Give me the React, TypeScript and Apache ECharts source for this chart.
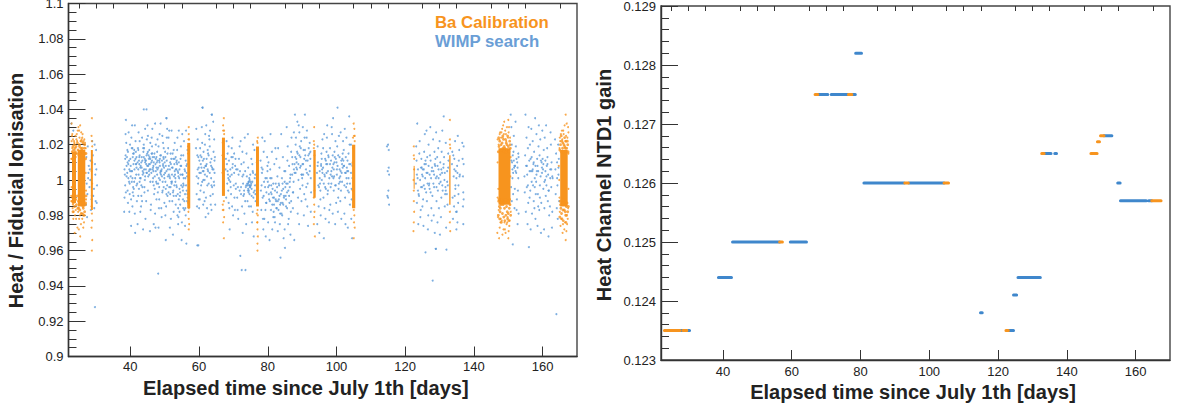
import React, { useEffect, useRef } from "react";
import * as echarts from "echarts";

type Pt = [number, number];
const FONT = "'Liberation Sans', Arial, sans-serif";
const BLUE = "#5b9ad8";
const ORANGE = "#f7941e";
const GAIN_BLUE = "#3f87cc";

const xMajor = [40, 60, 80, 100, 120, 140, 160];
const xMinor = [25, 30, 35, 45, 50, 55, 65, 70, 75, 85, 90, 95, 105, 110, 115, 125, 130, 135, 145, 150, 155, 165];

// Scatter rows: [day, tenths of a day, thousandths from 1, ...]
const wimpRows: number[][] = [
[27,2,13,5,-8,8,4,1,-14,6,19,3,-2,9,8,4,-21,7,1],
[28,1,-4,4,11,7,-11,2,6,9,22,5,-17,3,0],
[29,4,-5,7,9,1,14,5,-16,8,3,2,-9,6,20,9,-12],
[30,1,6,3,-3,0,17,2,-13],
[38,2,-18,3,-10,4,3,5,12,6,26,7,34,8,21,5,-3,9,8,7,-7],
[39,3,16,7,-18,1,4,5,27,8,-8,2,10,9,20,4,1,6,-1,0,13,7,6,3,-13],
[40,5,31,2,-26,8,-4,4,18,1,2,9,9,6,-15,3,24,7,-7,0,12,5,5,8,15,2,-11,6,1],
[41,3,31,8,7,1,-1,6,16,4,-30,9,-12,2,11,7,3,5,22,0,-5,8,13,3,-19,6,9,1,17],
[42,5,-5,1,-25,7,14,3,6,9,-18,4,27,0,-2,6,9,2,18,8,1,5,11,3,-9,7,22],
[43,2,-9,6,3,9,13,1,-15,4,24,7,-28,3,7,8,16,0,1,5,-4,2,10,9,20,6,5,4,-12],
[44,7,40,1,-4,5,11,8,4,3,29,6,-12,0,18,9,8,4,-22,2,0,7,14,5,6,1,-7,8,23,3,10],
[45,3,14,8,21,1,-6,6,6,4,12,9,-17,0,31,5,17,2,2,7,-29,4,9,8,-1,1,25,6,13],
[46,8,-3,2,24,5,13,0,-14,7,5,3,19,9,-8,4,29,1,10,6,1,8,-25,3,15,5,-1,7,8],
[47,2,-19,6,7,9,23,1,-5,4,12,8,3,3,-27,5,-1,0,15,7,10,2,32,9,6,6,-11,4,20],
[48,2,19,8,32,4,-11,6,8,1,-2,9,14,5,26,3,-16,7,4,0,-7,4,11,8,5,2,-27,6,0],
[49,3,-7,7,18,1,6,5,21,9,-13,4,-1,2,11,8,3,6,13,0,-16,3,25,7,-4,5,8,1,-21],
[50,2,-20,7,29,3,8,8,-9,5,35,1,16,9,2,4,-15,6,24,0,10,3,-34,7,-3,5,5,2,13],
[51,1,24,6,10,3,-4,8,-22,5,6,0,18,9,-1,4,-12,7,15,2,3,6,-8,3,28,8,9,5,-27],
[52,4,-7,9,21,1,7,6,-18,3,15,8,-3,5,12,0,28,7,2,2,-12,4,-31,9,5,6,17,1,-1],
[53,2,-14,7,24,4,10,9,-25,1,-1,6,17,3,-9,8,5,5,-4,0,3,7,-20,2,13,4,6,9,-16],
[54,1,28,6,12,3,-5,8,8,5,-14,0,-21,7,19,2,1,4,-9,9,-34,6,3,1,10,3,-18,8,14],
[55,4,14,9,-26,2,3,7,-17,5,-3,0,-24,3,-11,8,6,1,26,6,22,4,-16,9,-8,2,-4],
[56,1,11,5,2,3,-36,7,-10,2,28,6,17,0,-16,4,-6,1,-20,5,-12,3,8],
[59,2,29,5,14,8,1,3,-8,6,23,9,7,4,-15,1,18,7,-2,5,-37,9,-11],
[60,3,18,6,-3,1,11,8,30,5,4,2,-11,9,21,4,-6,7,13,0,-16,5,9],
[61,0,41,5,7,2,-14,8,26,3,16,6,0,9,-21,1,11,4,-7,7,20,3,5,6,-12],
[62,1,31,6,5,3,-16,8,14,4,-3,9,25,2,9,7,-19,5,17,0,-10,3,2],
[63,2,28,6,12,4,-14,8,-4,1,19,5,8,7,37,9,6,3,-9,0,23,6,-17],
[64,1,33,5,11,3,-1,7,-14,2,16,4,23,0,-8,5,4],
[67,7,6,9,-10,8,12],
[68,2,-2,6,19,4,3,8,-16,1,9,5,-6,3,15,9,-28,7,0,0,22,6,-13],
[69,2,-4,7,7,4,13,9,-20,1,-1,5,18,3,-8,8,9,6,-15,0,2,7,24],
[70,1,-3,6,12,3,-10,8,6,4,-17,2,15,7,-5],
[71,2,-17,6,12,3,-4,8,19,4,-22,9,5,1,-10],
[72,3,9,7,-30,1,22,5,-15,8,-2,6,16,9,3,2,-8],
[73,1,-8,9,2,3,24,7,-25,2,-19,6,-4,8,15,0,10,4,-12],
[74,0,-2,5,-6,3,7,8,-4,1,-12,6,-3,2,26,7,-8,4,-1,9,3,5,-15,3,-5,7,0,1,-3],
[75,2,12,6,5,0,-1,4,-24,8,-10,3,-5,7,20,1,-15,5,9,9,-32,2,-2,6,-18],
[76,1,17,4,-8,2,1,5,-12,3,-3],
[77,9,11],
[78,0,-6,4,24,1,-17,7,-28,3,4,8,16,5,-10,2,7,6,-22,9,-1],
[79,1,22,5,-13,2,-4,8,13,4,-32,9,5,3,-17,6,-7,0,-22,7,1],
[80,2,10,6,-12,1,-24,8,26,4,-3,9,-17,3,-8,5,-34,7,6,0,-1],
[81,2,16,6,-21,1,1,8,-14,3,-28,9,9,5,-10,7,-18,4,-5,0,-3],
[82,5,12,1,-24,7,-7,3,-2,9,-29,4,-12,6,-16,2,18,8,2,0,-21],
[83,2,-11,4,7,9,26,1,-17,5,-25,8,-8,3,-3,6,-14,0,18],
[84,1,1,6,-33,3,-13,8,5,4,13,9,-28,2,-20,5,-5,7,-9,0,-19],
[85,5,30,2,-9,7,11,3,-15,8,19,4,-2,9,-25,1,5,6,-7],
[86,2,8,6,-31,4,-4,8,16,3,-13,9,24,1,-22,5,1,7,-18,0,-6],
[87,2,9,6,27,4,-7,1,13,7,-34,3,-16,8,4,5,-1],
[88,1,20,6,33,3,7,8,-10,2,24,5,16,9,0,4,10,7,-19,0,13],
[89,2,27,7,22,4,-5,9,3,1,-25,5,13,8,-12,3,19,6,8,0,31],
[90,2,30,5,-20,3,9,9,14,1,-3,7,24,4,17,0,1,6,-8],
[91,3,24,7,-26,1,6,5,-15,9,18,2,-4,6,11,4,28,8,3,0,-11],
[92,1,15,5,-18,3,8,6,-7,2,21,4,12],
[94,3,4,8,-15,5,19,9,-4,6,10,4,-25],
[95,1,1,6,15,3,-11,8,6,4,-20,9,23,2,-2,7,12,0,-30,5,8],
[96,4,26,8,-22,2,-10,6,2,1,18,9,11,3,-33,7,-4,5,-16],
[97,1,16,5,5,9,-17,3,31,7,-2,2,24,6,14,4,-8,8,-24,0,9],
[98,6,30,2,-14,8,7,4,11,1,18,5,-2,9,-19,3,3,7,26],
[99,5,13,2,-6,7,22,3,2,9,-13,4,16,6,-25,1,9,8,-3],
[100,7,25,1,6,5,-10,9,13,4,-18,2,19,8,1,6,-5,0,10],
[101,2,27,6,9,4,-22,8,15,1,-12,5,4,9,22,3,-6,7,12,0,-1],
[102,4,29,8,-4,2,8,6,-25,1,17,5,-10,9,24,3,-19,7,4,0,11],
[103,1,-2,5,15,2,11,9,-14,4,5,8,20,3,-27,6,-7,0,7],
[104,1,9,5,-33,2,20,3,-22,6,1,4,-11],
[114,7,19,9,5,8,-9],
[115,0,20,2,7,1,-6,3,3,3,-14,0,-10,2,17],
[123,2,19,7,6,1,-2,8,-25,4,-13,9,-8,3,11,6,1],
[124,1,15,5,-17,8,7,2,22,6,-4,9,3,4,-21,7,12,0,-9],
[125,2,-11,7,26,4,-3,1,6,5,16,3,-26,8,1,0,-15,6,9],
[126,2,28,7,-20,4,13,9,-3,1,-7,5,4,3,-12,8,20,0,9,6,-28],
[127,3,30,7,-23,1,-5,5,1,9,-9,2,14,6,-16,4,11,8,7,0,-2],
[128,4,-4,7,8,2,5,5,16,9,-39,3,-20,6,-30,1,23,8,12],
[129,2,2,6,18,0,27,4,-24,8,-16,3,13,7,6,1,-12,5,-6,9,-2],
[130,1,-31,6,16,3,-1,8,28,4,-21,9,-6,2,10,7,4,0,22,5,-10],
[131,6,-8,3,13,8,21,4,0,9,-27,1,7,5,-15,7,-4],
[132,4,-3,2,5,6,11,3,-14,1,-8,5,15],
[133,6,9,8,-10,7,16,9,-22],
[134,2,-15,6,-3,1,2,5,22,9,-28,3,12,7,5,4,-9,8,-18,0,14],
[135,2,-24,7,17,4,-13,9,3,1,8,5,-3,3,25,6,11,0,-18],
[136,6,21,8,2,9,-7,7,12,8,-15,9,-25],
[137,0,19,0,-11,0,9],
[150,7,37,9,30,8,-4,9,11],
[151,0,20,5,16,7,7,1,10,4,-8,8,-16,2,1,6,25,9,-5,0,-12,3,14],
[152,1,33,5,-11,3,4,7,-25,2,19,6,10,9,1,4,-17,8,-6,0,8],
[153,0,-19,0,13],
[154,7,2,9,14,8,-7],
[155,3,24,6,-25,1,-18,8,-13,4,-4,7,18,2,8,9,30,5,3],
[156,3,20,6,5,9,-19,1,11,5,-28,8,13,4,-6,7,29,2,-10],
[157,1,22,6,-16,3,9,5,16,9,-22,2,-3,7,1,4,-12,0,5],
[158,2,26,6,-8,4,12,9,31,1,-1,5,-26,3,5,8,19,7,-15,0,-8],
[159,1,14,5,-30,3,23,8,4,6,-13,2,-10,9,28,4,2,7,10,0,-17],
[160,2,-5,6,24,4,-28,8,11,1,6,5,-16,3,17,9,-9,7,0,0,12],
[161,0,31,5,-12,2,8,7,-32,3,18,8,-6,1,-3,6,3,4,13,9,-20],
[162,1,-15,5,-4,3,27,8,-18,6,10,2,6,4,20,9,1,7,-27],
[163,6,23,8,-8,7,6,9,15],
[164,1,-16,3,-3,5,20,2,10,7,12,6,3,4,-22,8,-12],
];
// Second reading of the denser middle of the blue band
const wimpCoreRows: number[][] = [
[38,9,2,6,14,3,6],[39,4,9,8,-2,1,17,6,11,2,-6,9,5],[40,1,8,4,-1,7,13,3,5,9,-9,6,18],[41,2,6,5,12,8,-3,0,15,7,9,4,1],[42,1,10,4,3,7,-1,3,17,9,7,6,13],[43,0,8,3,13,5,11,8,4,2,-3,7,18],[44,0,6,3,2,6,9,9,15,2,12,7,4,4,11],[45,2,8,5,3,8,12,1,16,4,5,7,9,9,6],[46,1,4,3,11,6,7,9,13,2,15,5,6,8,10],[47,3,9,6,13,1,2,8,16,4,5,7,-2,9,11],[48,1,7,3,1,5,10,7,14,9,3,4,-4,6,12],[49,2,2,5,9,7,12,0,5,4,-6,8,7,9,1],[50,1,4,3,-5,6,11,8,15,2,-1,5,-8,9,6],[51,2,8,4,2,7,-4,9,12,1,-7,5,1],[52,1,3,3,7,5,-6,8,9,0,-2,6,-9,9,12],[53,2,6,4,-3,6,9,8,-8,1,1,5,11,9,4],[54,0,2,3,6,5,-7,8,-3,1,-11,6,8],[55,1,3,3,-6,5,1,7,-12,9,5,4,-2],[56,2,-3,4,4,6,-8,0,1,5,9],
[59,6,6,3,2,8,13],[60,1,4,4,14,7,7,9,-1],[61,1,5,4,12,7,3,9,8,2,0],[62,2,12,5,6,8,-2,0,8,6,15],[63,3,10,5,1,8,7,1,4,6,-3],[64,2,6,6,13,4,-3],
[68,3,5,7,11,5,1],[69,1,6,5,3,8,13],[70,2,4,5,8,7,-2],
[71,5,3,8,-6,2,6],[72,2,-4,6,2,9,-9],[73,4,5,7,-3,1,-6],[74,3,-2,6,1,4,-7,8,-3,2,-6,5,-1,9,-4],[75,1,-3,3,-9,5,-1,7,4,9,-7],[76,2,-6,4,3],
[78,2,-3,5,6,8,-9],[79,3,1,6,-13,9,8],[80,1,-4,4,-11,7,1,9,-7],[81,1,-8,3,-14,6,-2,8,-10],[82,1,-6,3,-11,5,-16,7,-4,9,-12],[83,2,-2,4,-9,6,-19,8,-13],[84,1,-6,3,-2,5,-14,7,-10,9,-1],[85,1,-4,3,-11,6,-16,8,-2],[86,2,-9,4,-1,6,3,8,-12],[87,1,3,3,-7,6,6,8,9],[88,1,4,3,12,5,6,7,15,9,9],[89,2,14,4,7,6,18,8,3],[90,1,9,3,3,6,12,8,17],[91,1,11,4,4,6,-2,8,14],[92,2,5,5,1,4,16],
[94,5,8,7,-3],[95,1,5,3,-6,5,9,7,0,9,4],[96,1,7,3,-2,5,3,7,12,9,-5],[97,1,4,3,9,5,-6,7,13,9,1],[98,1,9,3,-4,5,5,7,2,9,14],[99,2,6,4,10,6,-3,8,12,1,1],[100,1,3,3,8,5,14,7,-2,9,6],[101,2,5,4,11,6,-1,8,7,1,2],[102,1,8,3,-3,5,4,7,13,9,1],[103,1,5,3,-6,5,1,7,9,9,-2],[104,2,4,4,-5,6,8],
[123,4,3,7,-6],[124,3,0,6,7,9,-4],[125,1,2,4,6,7,-5,9,11],[126,2,4,5,-2,8,8],[127,1,3,4,-7,7,5],[128,2,-2,4,3,6,9,9,1],[129,1,-4,4,8,7,1],[130,2,3,5,6,8,-3],[131,2,9,5,4,8,-6],[132,2,-1,5,7],[134,3,6,6,-5,9,1],[135,2,4,5,-8,8,2],
[151,2,6,4,4,6,11,8,8],[152,1,5,4,12,7,7,9,15],[155,4,8,7,-3],[156,2,5,5,12,8,-1],[157,1,6,4,10,7,-4,9,8],[158,2,3,5,8,7,5],[159,2,-3,5,11,8,7],[160,2,9,5,-1,8,5],[161,1,2,4,9,7,-6],[162,2,1,5,6,8,2],[164,2,1,6,7],
];
// Isolated blue points far from the main band
const wimpOutliers: Pt[] = [[29.7,.928],[48.1,.947],[72,.957],[72.4,.949],[73.5,.949],[83.7,.956],[85,.9615],[59.8,.963],[43.9,1.04],[61,1.041],[63.7,1.037],[50.5,1.035],[87.9,1.037],[100.3,1.041],[103.7,1.036],[90.8,1.037],[99,1.035],[125.9,.959],[128.9,.961],[132,.9605],[128,.943],[164,.924],[156,.962],[151.3,.9635],[131.2,1.036],[155,1.037],[157.8,1.035],[123.5,1.032],[22.8,1.032],[23.4,1.028]];

// Sparse dots round each Ba burst, same row format
const baRows: number[][] = [
[22,9,32,8,12,9,-4,8,-9,9,22,8,-12],
[23,1,26,3,23,6,22,0,25,4,-22,8,-30,2,-16,5,-18,1,18,7,21,3,-14,9,-20],
[24,0,25,2,-22,9,30,3,23,6,-27,8,-18,1,-17,5,22,7,28,4,26],
[25,1,28,4,31,7,27,0,-28,4,-32,6,-25,3,-20,9,-19,2,24,5,22,8,23,1,-22],
[26,0,24,4,22,5,-24,0,-22,3,-27,7,-20,1,26,8,21,2,-19,6,23],
[27,0,18,1,-11,0,4,1,-6],
[28,8,35,8,-40,9,-34,7,-27,9,-23,8,22,9,19,7,25,8,-19,7,-15,9,10,7,5,9,-2,8,-9],
[56,9,-18,8,-13,9,23,8,19,9,-7,8,15],
[57,0,30,0,26,1,23,0,-22,0,-28,1,-25,0,-16,1,18],
[66,9,21,8,4,9,-14,9,-17,8,14],
[67,2,35,0,31,3,28,2,-33,0,-24,3,-21,1,-17,2,-12,3,26,0,28],
[76,9,22,8,-19,9,-24,8,10,9,-13],
[77,0,-40,0,-36,1,-32,0,-28,0,-24,1,-20,0,21,1,24,0,-17],
[93,5,30,4,18,6,14,7,-32,4,-25,5,-21,6,-18,5,-14,4,-10,6,-6,5,20,4,22],
[104,8,24,7,-6,9,-15,8,18,7,10],
[105,0,32,2,29,1,25,3,22,0,-33,3,-27,1,-24,2,-20,0,-17,3,25],
[122,5,19,6,12,6,6,4,0,5,-6,5,-12,6,-18,5,-24,4,-29,5,14],
[133,0,34,0,23,1,18,0,-18,0,-24,1,-29,0,20],
[146,9,-10,9,10,9,23,8,-30],
[147,3,-33,5,-27,8,-22,2,-17,1,-5,6,27,4,23,9,24,7,-24,0,-21,2,20,5,26],
[148,1,-23,5,31,8,33,2,29,6,-28,9,-24,3,-31,7,26,4,24,0,27],
[149,0,-28,5,-25,8,-21,6,30,3,26,2,-30,9,24,1,28,7,-24,4,22],
[150,0,-33,1,-29,4,-23,0,34,1,27,5,24,7,-18,6,2,7,13,3,-26,2,30],
[164,9,18,9,-10,8,0,7,8],
[165,0,24,3,26,7,23,2,-26,4,-22,9,-25,0,-18,6,28,1,22,8,-30],
[166,0,28,4,31,7,37,8,25,3,-28,7,-34,9,-29,1,26,5,-24,6,22],
[167,0,32,4,30,1,-25,3,-22,5,27,2,24,4,-16,5,15,5,-5],
];
// The dense dotted halo of the big bursts, above and below their cores
const baHaloRows: number[][] = [
[23,1,16,3,19,5,17,7,20,2,-10,4,-13,6,-11,8,-15,1,-12,3,-18,5,13,7,15,9,18,2,12],
[24,0,16,2,19,4,15,6,21,8,17,1,-11,3,-14,5,-9,7,-16,9,-12,0,13],
[25,0,14,2,20,4,16,6,18,8,22,1,-12,3,-17,5,-14,7,-19,9,-11,0,-16,3,15,6,-13,9,17,2,19],
[26,0,16,2,21,4,14,6,18,8,15,1,-13,3,-16,5,-11,7,-18,9,-14,0,18,4,-20,7,20,2,-15],
[27,0,12,1,-9,0,-13,1,15],
[147,1,16,3,19,5,22,7,17,9,20,2,-12,4,-15,6,-18,8,-13,1,-20,3,-11,5,-22,7,-16,9,-14,2,24],
[148,0,17,2,21,4,18,6,23,8,16,1,-12,3,-19,5,-14,7,-21,9,-16,0,-24,2,-11,4,25,6,-13,8,19],
[149,0,18,2,23,4,16,6,20,8,25,1,-13,3,-20,5,-15,7,-18,9,-12,0,-23,2,-11,4,21,6,17,8,-22],
[150,0,19,2,16,4,22,6,18,1,-12,3,-16,5,-14,7,-20,0,-19,2,-23,4,-11,5,20],
[165,0,17,2,20,4,16,6,22,8,18,1,-12,3,-16,5,-19,7,-13,9,-17,0,-21,2,-14,4,25,6,-22,9,21],
[166,0,16,2,20,4,24,6,18,8,22,1,-11,3,-17,5,-14,7,-20,9,-15,0,-23,2,-13,4,19,6,-18,8,-24],
[167,0,18,2,22,4,16,1,-13,3,-18,5,-15,0,-20,3,20],
];
// Solid cores of the bursts: [day, lower, upper] in thousandths from 1, with a pixel width
const baCores: [number, number, number, number][] = [
[23.6,-13,16,4],[25.8,-15,17,7.5],[28.8,-17,17,2],[57,-16,21,3],[67.1,-9,24,3],[77,-15,19,3],[93.6,-10,17,2.4],[105,-16,20,3.2],[122.6,-5,8,1],[133,-14,14,1.3],[148.9,-14,18,12],[166.2,-15,17,7.5],
];

// Heat channel gain runs: [start, end, gain]
const gainWimpRuns: number[][] = [
[27.7,28.2,.1235],[29.9,30.3,.1235],[38.7,42.5,.1244],[42.8,56.5,.125],[59.6,64.3,.125],[67.7,70.5,.1275],[71.5,76.5,.1275],[77.7,78.5,.1275],[78.6,80.3,.1282],[81,92.7,.126],[94.1,104.3,.126],[114.9,115.4,.1238],[123.1,124.5,.1235],[124.5,125.4,.1241],[125.8,132.3,.1244],[133.4,135.4,.1265],[136.5,137,.1265],[150.8,153.1,.1268],[154.8,155.5,.126],[155.6,163.1,.1257],[163.8,164.7,.1257],
];
const gainBaRuns: number[][] = [
[23,27.5,.1235],[28.4,29.5,.1235],[56.5,57.3,.125],[66.8,67.6,.1275],[76.5,77.5,.1275],[92.9,93.9,.126],[104.3,105.6,.126],[122.3,123,.1235],[132.7,133.4,.1265],[147,148.8,.1265],[148.9,149.5,.1267],[149.8,150.8,.1268],[164.7,167.4,.1257],
];

function expand(rows: number[][]): Pt[] {
  const out: Pt[] = [];
  for (const r of rows) for (let i = 1; i + 1 < r.length; i += 2) out.push([r[0] + r[i] / 10, 1 + r[i + 1] / 1000]);
  return out;
}
function runsToLine(runs: number[][]) {
  const out: any[] = [];
  runs.forEach((r, i) => {
    if (i) out.push(["-", "-"]);
    out.push([r[0], r[2]], [r[1], r[2]]);
  });
  return out;
}

const labelStyle = { fontFamily: FONT, fontSize: 13, color: "#222" };
const nameStyle = { fontFamily: FONT, fontSize: 20, fontWeight: "bold" as const, color: "#222" };
const lineCol = { color: "#333", width: 1.4 };

function xAxes(gridIndex: number, nameGap: number, margin: number, shift: number) {
  return [
    {
      type: "value", gridIndex, min: 22, max: 170,
      name: "Elapsed time since July 1th [days]", nameLocation: "middle", nameGap,
      nameTextStyle: { ...nameStyle, padding: [0, shift, 0, 0] },
      axisLine: { onZero: false, lineStyle: lineCol },
      axisTick: { inside: true, length: 10, lineStyle: { color: "#333", width: 1 }, customValues: xMajor },
      axisLabel: { ...labelStyle, margin, customValues: xMajor },
      splitLine: { show: false },
    },
    {
      type: "value", gridIndex, min: 22, max: 170,
      axisLine: { show: false },
      axisTick: { inside: true, length: 5, lineStyle: { color: "#333", width: 1 }, customValues: xMinor },
      axisLabel: { show: false },
      splitLine: { show: false },
    },
  ];
}
function yAxis(gridIndex: number, min: number, max: number, interval: number, name: string, nameGap: number, splitNumber: number, shift: number) {
  return {
    type: "value", gridIndex, min, max, interval, name, nameLocation: "middle", nameGap,
    nameTextStyle: { ...nameStyle, padding: [0, shift, 0, 0] },
    axisLine: { show: true, lineStyle: lineCol },
    axisTick: { show: true, inside: true, length: 17, lineStyle: { color: "#333", width: 1 } },
    minorTick: { show: true, splitNumber, length: 8, lineStyle: { color: "#333", width: 1 } },
    axisLabel: { ...labelStyle, margin: 5, showMaxLabel: true, showMinLabel: true },
    splitLine: { show: false },
  };
}

export default function App() {
  const ref = useRef<HTMLDivElement>(null);
  useEffect(() => {
    const chart = echarts.init(ref.current!, null, { renderer: "svg" });
    chart.setOption({
      animation: false,
      backgroundColor: "#fff",
      grid: [
        { left: 68.5, right: 604, top: 3.5, bottom: 48.5, outerBoundsMode: "none", show: true, borderColor: "#444", borderWidth: 1.4, backgroundColor: "transparent" },
        { left: 661, right: 11, top: 6, bottom: 45, outerBoundsMode: "none", show: true, borderColor: "#444", borderWidth: 1.4, backgroundColor: "transparent" },
      ],
      xAxis: [...xAxes(0, 19, 3.5, 34), ...xAxes(1, 15, 4.5, 5)],
      yAxis: [
        yAxis(0, 0.9, 1.1, 0.02, "Heat / Fiducial Ionisation", 43, 4, 21),
        yAxis(1, 0.123, 0.129, 0.001, "Heat Channel NTD1 gain", 47, 5, 4),
      ],
      legend: {
        left: 425, top: 9, orient: "vertical", itemWidth: 0, itemHeight: 0, itemGap: 2, selectedMode: false,
        data: [
          { name: "Ba Calibration", textStyle: { color: ORANGE, fontFamily: FONT, fontSize: 16.8, fontWeight: "bold" } },
          { name: "WIMP search", textStyle: { color: "#6a9ed6", fontFamily: FONT, fontSize: 16.8, fontWeight: "bold" } },
        ],
      },
      series: [
        { name: "WIMP search", type: "scatter", xAxisIndex: 0, yAxisIndex: 0, data: [...expand(wimpRows), ...expand(wimpCoreRows), ...wimpOutliers], symbolSize: 2, itemStyle: { color: BLUE }, z: 2 },
        { name: "Ba Calibration", type: "scatter", xAxisIndex: 0, yAxisIndex: 0, data: expand(baRows), symbolSize: 2, itemStyle: { color: ORANGE }, z: 3 },
        { name: "Ba Calibration", type: "scatter", xAxisIndex: 0, yAxisIndex: 0, data: expand(baHaloRows), symbolSize: 2.8, itemStyle: { color: ORANGE }, z: 3 },
        ...baCores.map((c) => ({
          name: "Ba Calibration", type: "line", xAxisIndex: 0, yAxisIndex: 0, showSymbol: false,
          data: [[c[0], 1 + c[1] / 1000], [c[0], 1 + c[2] / 1000]],
          lineStyle: { color: ORANGE, width: c[3] }, itemStyle: { color: ORANGE }, z: 3,
        })),
        { name: "WIMP search", type: "line", xAxisIndex: 2, yAxisIndex: 1, data: runsToLine(gainWimpRuns), showSymbol: false, connectNulls: false, lineStyle: { color: GAIN_BLUE, width: 3, cap: "round" }, itemStyle: { color: GAIN_BLUE }, z: 2 },
        { name: "Ba Calibration", type: "line", xAxisIndex: 2, yAxisIndex: 1, data: runsToLine(gainBaRuns), showSymbol: false, connectNulls: false, lineStyle: { color: ORANGE, width: 3, cap: "round" }, itemStyle: { color: ORANGE }, z: 3 },
      ],
    });
    return () => chart.dispose();
  }, []);
  return <div ref={ref} style={{ position: "fixed", left: 0, top: 0, width: 1181, height: 405 }} />;
}
